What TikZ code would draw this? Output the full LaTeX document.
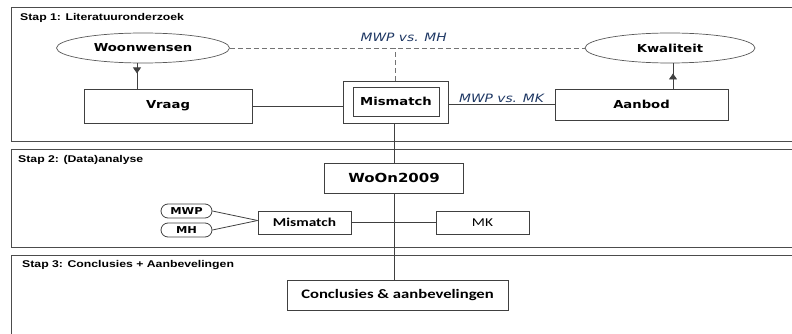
\documentclass[tikz,border=0pt]{standalone}
\usepackage{fontspec}
\newfontfamily\verdfont[FakeStretch=1.2]{DejaVu Sans}
\newfontfamily\calfont[FakeStretch=1.28]{Carlito}
\newfontfamily\arialfont[FakeStretch=1.25]{Liberation Sans}
\usetikzlibrary{arrows.meta, positioning, shapes.geometric, decorations.markings, calc}
\definecolor{labelblauw}{RGB}{31,56,100}

\begin{document}
\begin{tikzpicture}[x=1pt, y=-1pt,
        every node/.style={inner sep=0pt},
        kader/.style={draw=black!70, line width=0.8pt},
        staptitel/.style={anchor=west, font=\arialfont\bfseries\fontsize{9.8}{11}\selectfont},
        blok/.style={
            rectangle, draw=black!75, line width=0.8pt, fill=white,
            font=\verdfont\bfseries\fontsize{11}{13}\selectfont
        },
        wens/.style={
            ellipse, draw=black!65, line width=0.7pt, fill=white,
            minimum width=173pt, minimum height=30pt,
            font=\verdfont\bfseries\fontsize{11}{13}\selectfont
        },
        klein/.style={
            rectangle, draw=black!75, line width=0.8pt, fill=white,
            minimum width=93pt, minimum height=23pt,
            font=\calfont\fontsize{12}{14}\selectfont
        },
        ovaal/.style={
            rectangle, rounded corners=7pt, draw=black!75, line width=0.8pt,
            minimum width=51pt, minimum height=14pt,
            font=\verdfont\bfseries\fontsize{9.5}{11}\selectfont
        },
        vergelijking/.style={text=labelblauw, font=\verdfont\itshape\fontsize{11.5}{13}\selectfont},
        lijn/.style={draw=black!75, line width=0.8pt},
        stippel/.style={draw=black!55, line width=0.8pt, dash pattern=on 5pt off 3pt},
        pijlmidden/.style={
            postaction={decorate},
            decoration={markings, mark=at position #1 with {\arrow{Triangle[length=6pt, width=8pt]}}}
        }
    ]
        \useasboundingbox (0,0) rectangle (792,334);

% --- Kaders van de drie stappen ---
        \draw[kader] (11,7) rectangle (800,141);
        \draw[kader] (11,149) rectangle (800,247);
        \draw[kader] (11,255) rectangle (800,345);

        \node[staptitel] (titel1) at (20,17.5) {Stap 1: Literatuuronderzoek};
        \node[staptitel] (titel2) at (18,160) {Stap 2: (Data)analyse};
        \node[staptitel] (titel3) at (22,265) {Stap 3: Conclusies + Aanbevelingen};

% --- Stap 1: Literatuuronderzoek ---
        \node[wens] (woonwensen) at (143,48) {Woonwensen};
        \node[wens, minimum width=170pt] (kwaliteit) at (670,48) {Kwaliteit};

        \node[blok, minimum width=168pt, minimum height=34pt] (vraag) at (168,106) {Vraag};
        \node[draw=black!75, line width=0.8pt, minimum width=105pt, minimum height=42pt] (mismatchrand) at (395.5,102) {};
        \node[blok, minimum width=86pt, minimum height=29pt] (mismatch) at (396,101.5) {Mismatch};
        \node[blok, minimum width=173pt, minimum height=31pt] (aanbod) at (641.5,104.5) {Aanbod};

        \draw[lijn, pijlmidden=0.4] ([xshift=-6pt]woonwensen.south) -- ([xshift=-6pt]woonwensen.south |- vraag.north);
        \draw[lijn, pijlmidden=0.6] ([xshift=3pt]kwaliteit.south |- aanbod.north) -- ([xshift=3pt]kwaliteit.south);

        \draw[lijn] (vraag.east) -- (vraag.east -| mismatchrand.west);
        \draw[lijn] (aanbod.west -| mismatchrand.east) -- node[vergelijking, above=1.5pt] {MWP vs. MK} (aanbod.west);

        \draw[stippel] (woonwensen.east) -- node[vergelijking, pos=0.49, above=6pt] {MWP vs. MH} (kwaliteit.west);
        \draw[stippel] (mismatchrand.north) -- (mismatchrand.north |- woonwensen.east);

% --- Stap 2: (Data)analyse ---
        \node[blok, minimum width=139pt, minimum height=30pt, font=\verdfont\bfseries\fontsize{12.5}{14}\selectfont] (woon) at (394,178) {WoOn2009};

        \node[klein, font=\calfont\bfseries\fontsize{12}{14}\selectfont] (mismatchdata) at (304.5,222.5) {Mismatch};
        \node[klein] (mk) at (482.5,222.5) {MK};
        \node[ovaal] (mwp) at (186.5,211) {MWP};
        \node[ovaal] (mh) at (186.5,230) {MH};

        \coordinate (samen) at ([yshift=2pt]mismatchdata.west);
        \draw[lijn] (mwp.east) -- (samen);
        \draw[lijn] (mh.east) -- (samen);
        \draw[lijn] (mismatchdata.east) -- (mk.west);

% --- Stap 3: Conclusies + Aanbevelingen ---
        \node[blok, minimum width=221pt, minimum height=30pt, font=\calfont\bfseries\fontsize{13}{15}\selectfont] (conclusies) at (397.5,295) {Conclusies \& aanbevelingen};

% --- Verticale verbinding door de stappen ---
        \draw[lijn] (woon.north |- mismatchrand.south) -- (woon.north);
        \draw[lijn] (woon.south) -- (woon.south |- conclusies.north);
    \end{tikzpicture}
\end{document}
